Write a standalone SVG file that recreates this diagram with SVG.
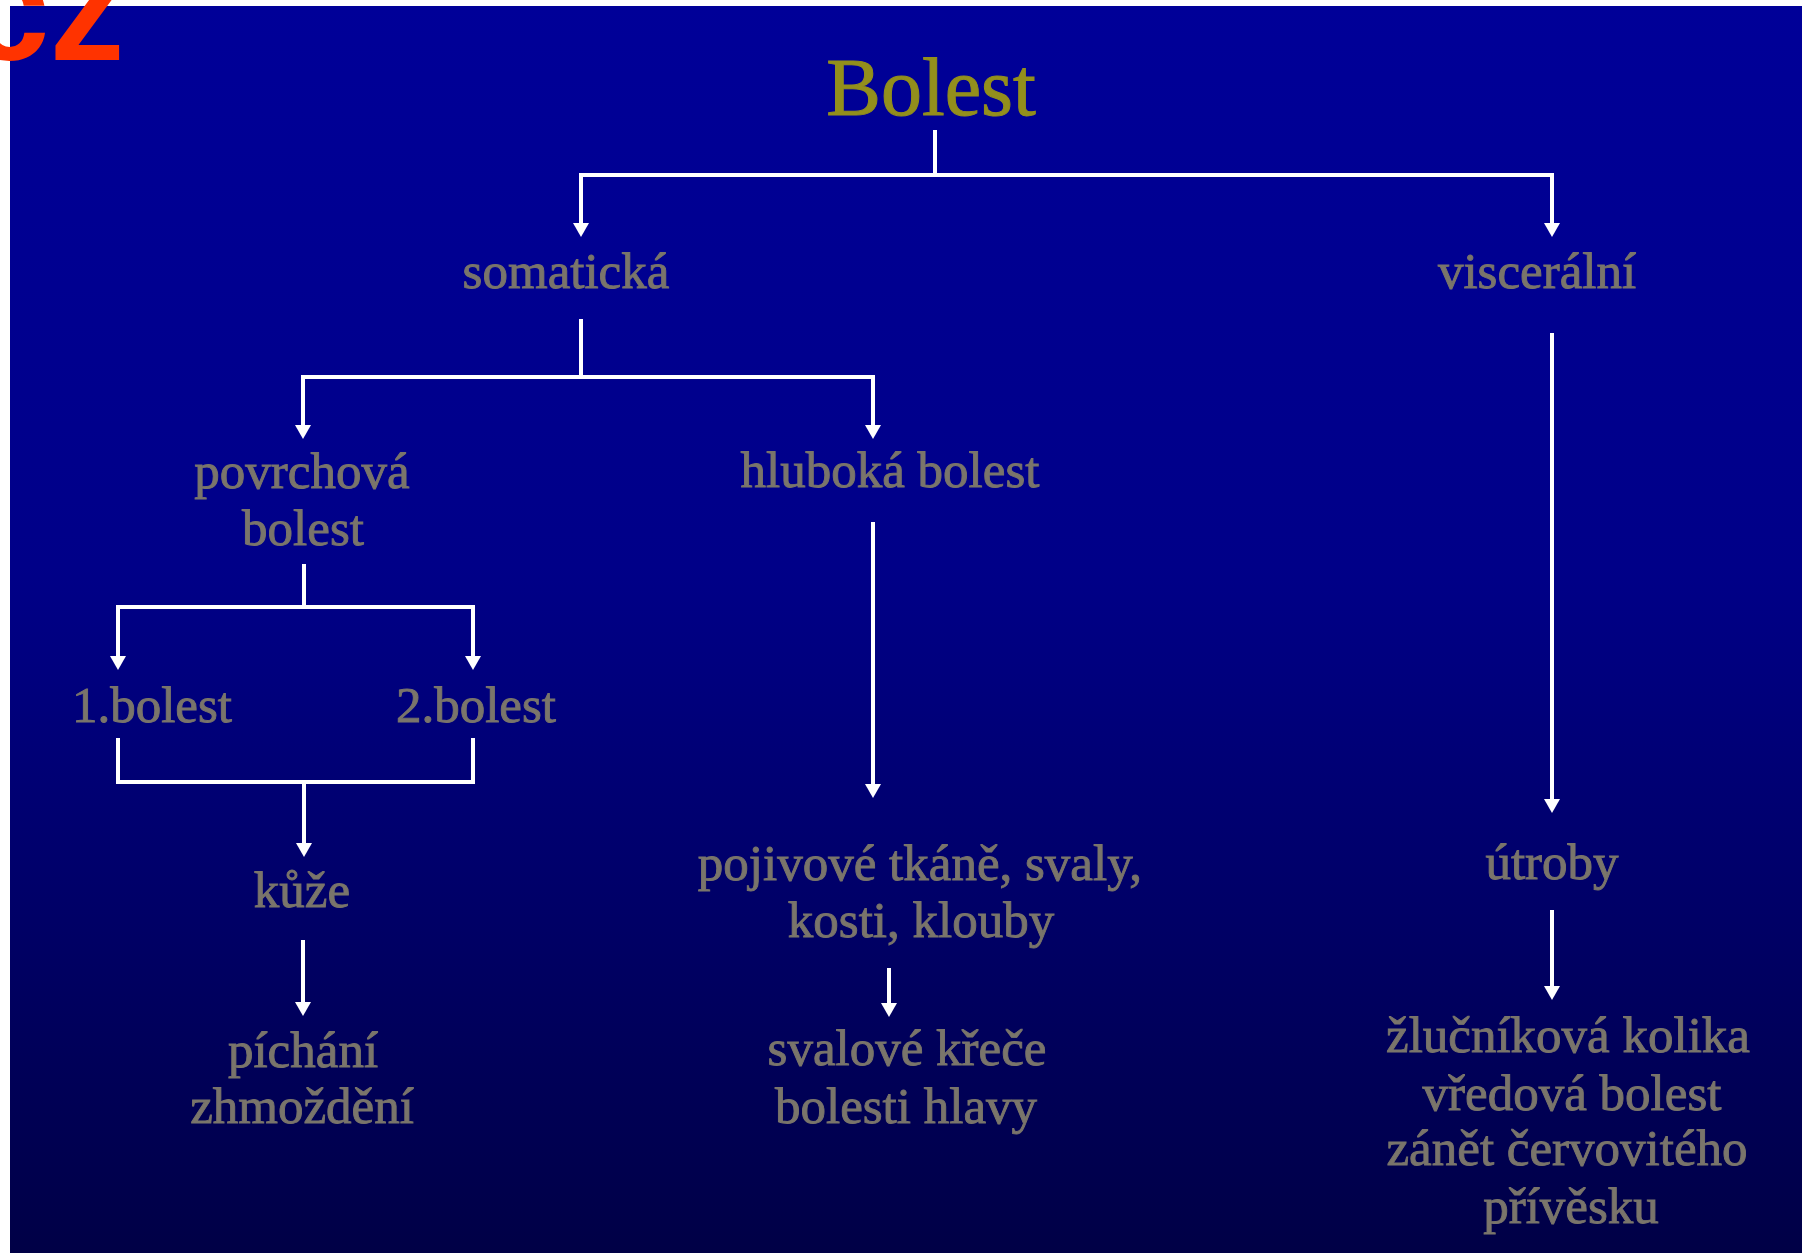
<svg xmlns="http://www.w3.org/2000/svg" width="1802" height="1253" viewBox="0 0 1802 1253">
  <defs>
    <linearGradient id="bg" x1="0" y1="0" x2="0" y2="1">
      <stop offset="0" stop-color="#000098"/>
      <stop offset="0.45" stop-color="#000088"/>
      <stop offset="1" stop-color="#000046"/>
    </linearGradient>
    <marker id="arr" viewBox="0 0 14 16" refX="9" refY="8" markerWidth="14" markerHeight="16" markerUnits="userSpaceOnUse" orient="auto">
      <path d="M0,0 L14,8 L0,16 z" fill="#ffffff"/>
    </marker>
    <style>
      .lbl { font-family: "Liberation Serif", "Times New Roman", serif; font-size: 51px; fill: #7a756b; stroke: #7a756b; stroke-width: 0.9px; text-anchor: middle; }
      .title { font-family: "Liberation Serif", "Times New Roman", serif; font-size: 82px; fill: #938f1c; stroke: #938f1c; stroke-width: 1px; text-anchor: middle; }
      .c { fill: none; stroke: #ffffff; stroke-width: 4; }
      .a { marker-end: url(#arr); }
    </style>
  </defs>
  <rect x="0" y="0" width="1802" height="1253" fill="#ffffff"/>
  <rect x="10" y="6" width="1792" height="1247" fill="url(#bg)"/>
  <text x="-34" y="60" font-family="Liberation Sans, Arial, sans-serif" font-weight="bold" font-size="150" fill="#ff3300">cz</text>

  <g id="connectors">
    <path class="c" d="M935,130 V175"/>
    <path class="c a" d="M935,175 H581 V232"/>
    <path class="c a" d="M935,175 H1552 V232"/>
    <path class="c" d="M581,319 V377"/>
    <path class="c a" d="M581,377 H303 V434"/>
    <path class="c a" d="M581,377 H873 V434"/>
    <path class="c" d="M304,564 V607"/>
    <path class="c a" d="M304,607 H118 V665"/>
    <path class="c a" d="M304,607 H473 V665"/>
    <path class="c" d="M118,738 V782 H473 V738"/>
    <path class="c a" d="M304,782 V852"/>
    <path class="c a" d="M303,940 V1011"/>
    <path class="c a" d="M873,522 V793"/>
    <path class="c a" d="M889,968 V1012"/>
    <path class="c a" d="M1552,333 V808"/>
    <path class="c a" d="M1552,910 V995"/>
  </g>

  <g id="bolest"><text class="title" x="931" y="115">Bolest</text></g>
  <g id="somaticka"><text class="lbl" x="566" y="288">somatická</text></g>
  <g id="visceralni"><text class="lbl" x="1537" y="288">viscerální</text></g>
  <g id="povrchova"><text class="lbl" x="302" y="488">povrchová<tspan x="303" y="545">bolest</tspan></text></g>
  <g id="hluboka"><text class="lbl" x="890" y="487">hluboká bolest</text></g>
  <g id="bolest1"><text class="lbl" x="152" y="722">1.bolest</text></g>
  <g id="bolest2"><text class="lbl" x="476" y="722">2.bolest</text></g>
  <g id="kuze"><text class="lbl" x="302" y="907">kůže</text></g>
  <g id="pichani"><text class="lbl" x="303" y="1067">píchání<tspan x="302" y="1123">zhmoždění</tspan></text></g>
  <g id="pojivove"><text class="lbl" x="920" y="880">pojivové tkáně, svaly,<tspan x="921" y="937">kosti, klouby</tspan></text></g>
  <g id="svalove"><text class="lbl" x="907" y="1065">svalové křeče<tspan x="906" y="1123">bolesti hlavy</tspan></text></g>
  <g id="utroby"><text class="lbl" x="1552" y="879">útroby</text></g>
  <g id="zlucnikova"><text class="lbl" x="1568" y="1052">žlučníková kolika<tspan x="1572" y="1110">vředová bolest</tspan><tspan x="1567" y="1165">zánět červovitého</tspan><tspan x="1571" y="1223">přívěsku</tspan></text></g>
</svg>
